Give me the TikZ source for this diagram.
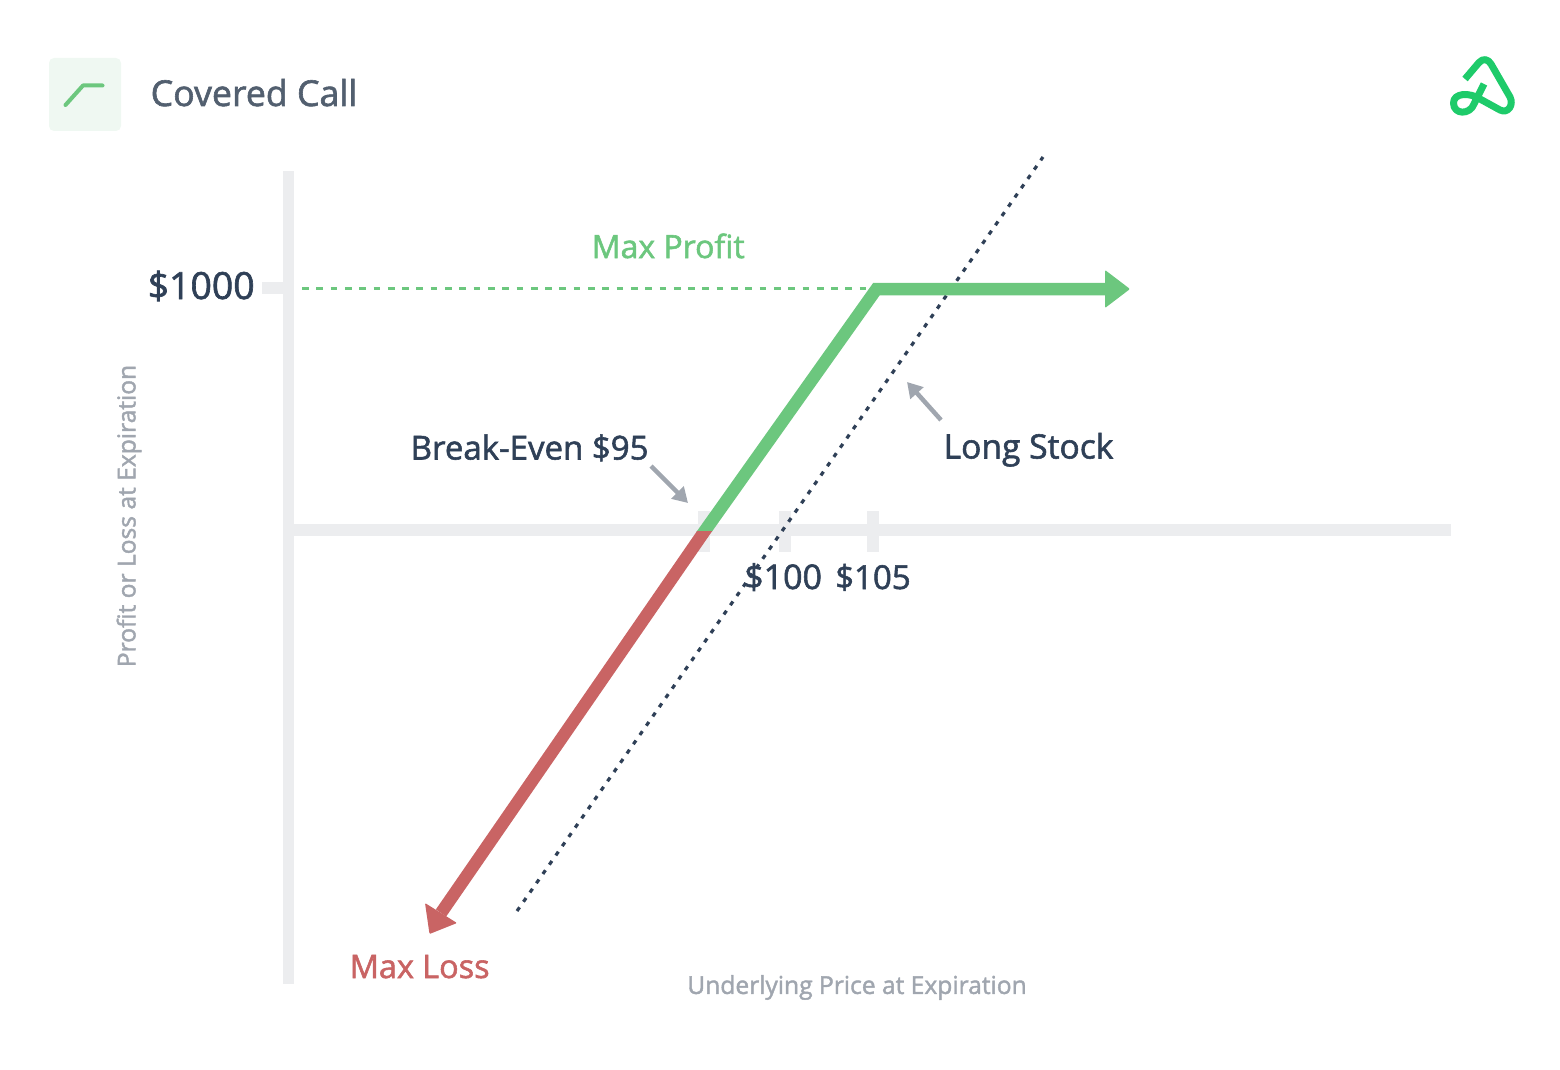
\documentclass[tikz,border=0pt]{standalone}
\usepackage{fontspec}
\setmainfont{Open Sans}
\newfontfamily\medfont[FakeBold=1.7]{Open Sans}
\usetikzlibrary{arrows.meta}
\definecolor{axisgray}{HTML}{ECEDEF}
\definecolor{profitgreen}{HTML}{6CC77E}
\definecolor{lossred}{HTML}{C96464}
\definecolor{darkslate}{HTML}{2F4057}
\definecolor{notegray}{HTML}{A0A6AF}
\definecolor{titleslate}{HTML}{525F6F}
\definecolor{logogreen}{HTML}{1ECB6A}
\definecolor{iconback}{HTML}{EFF8F2}
\tikzset{
  axisline/.style={axisgray, line width=12pt},
  notearrow/.style={notegray, line width=4.5pt, -{Triangle[length=15pt,width=17pt]}},
  price/.style={anchor=base west, inner sep=0pt, text=darkslate, font=\medfont\fontsize{33}{36}\selectfont},
  axisname/.style={inner sep=0pt, text=notegray, font=\medfont\fontsize{24.6}{30}\selectfont}
}

\begin{document}
\begin{tikzpicture}[x=1pt, y=-1pt]
\useasboundingbox (0, 0) rectangle (1560, 1070);
% header
\fill[iconback, rounded corners=5pt] (49, 58) rectangle (121, 131);
\draw[profitgreen, line width=4pt, line cap=round, line join=round] (65.5, 105) -- (83, 85.5) -- (102.5, 85.5);
\node[anchor=base west, inner sep=0pt, text=titleslate, font=\medfont\fontsize{35.7}{40}\selectfont] (title) at (150.5, 106) {Covered Call};
\draw[logogreen, line width=7pt, line join=round] (1465, 79) -- (1479, 62.5) .. controls (1483, 58) and (1488, 59) .. (1491, 64) -- (1510, 97) .. controls (1514, 105) and (1508, 114) .. (1500, 110) -- (1480, 99) .. controls (1469, 92) and (1453.5, 93) .. (1453.5, 103) .. controls (1453.5, 115) and (1470, 115) .. (1474, 104) -- (1484, 84);
% axes
\coordinate (ytop) at (288.7, 171);
\coordinate (ybot) at (288.7, 984);
\coordinate (xleft) at (294, 530);
\coordinate (xright) at (1451, 530);
\draw[axisline, line width=10.7pt] (ytop) -- (ybot);
\draw[axisline] (xleft) -- (xright);
\draw[axisline] (262, 288) -- (294, 288);
\foreach \tickx in {704, 785, 873}
  \draw[axisline] (\tickx, 511) -- (\tickx, 552);
% long stock
\coordinate (stocktop) at (1043, 157);
\coordinate (stockbot) at (517, 911);
\draw[darkslate, line width=3.2pt, dash pattern=on 4.5pt off 6.8pt] (stockbot) -- (stocktop);
% payoff
\coordinate (dashstart) at (302, 288.3);
\coordinate (knee) at (876.5, 289);
\coordinate (profitend) at (1130, 289);
\coordinate (losstip) at (429.5, 934);
\coordinate (lossa) at (425, 903);
\coordinate (lossb) at (457, 923);
\draw[profitgreen, line width=3.4pt, dash pattern=on 6.7pt off 7.6pt] (dashstart) -- (875, 288.3);
\begin{scope}
\clip (600, 200) rectangle (1200, 531.7);
\draw[profitgreen, line width=12.5pt, line join=miter] (660, 594) -- (knee) -- (1106, 289);
\end{scope}
\fill[profitgreen, rounded corners=1pt] (1105, 270) -- (profitend) -- (1105, 308) -- cycle;
\begin{scope}
\clip (350, 531.7) rectangle (800, 1000);
\draw[lossred, line width=12.5pt] (735, 487) -- (441, 913);
\end{scope}
\fill[lossred, rounded corners=1pt] (lossa) -- (losstip) -- (lossb) -- cycle;
% labels
\node[price, text=profitgreen, font=\medfont\fontsize{32}{36}\selectfont] (maxprofit) at (591.5, 258) {Max Profit};
\node[price, text=lossred, font=\medfont\fontsize{32.4}{36}\selectfont] (maxloss) at (349.5, 978) {Max Loss};
\node[price] (breaklabel) at (410.5, 459.5) {Break-Even \$95};
\node[price, font=\medfont\fontsize{33.6}{36}\selectfont] (stocklabel) at (943.5, 458.5) {Long Stock};
\node[price, font=\medfont\fontsize{34}{36}\selectfont] (lab100) at (744, 589) {\$100};
\node[price] (lab105) at (835, 589) {\$105};
\node[price, font=\medfont\fontsize{37.4}{40}\selectfont] (lab1000) at (147.5, 299) {\$1000};
\node[axisname] (xname) at (857, 987.5) {Underlying Price at Expiration};
\node[axisname, rotate=90] (yname) at (129, 516) {Profit or Loss at Expiration};
% pointers
\coordinate (breaktip) at (688, 503);
\coordinate (stocktip) at (907, 382);
\draw[notearrow] (651, 466) -- (breaktip);
\draw[notearrow] (941, 420) -- (stocktip);
\end{tikzpicture}
\end{document}
